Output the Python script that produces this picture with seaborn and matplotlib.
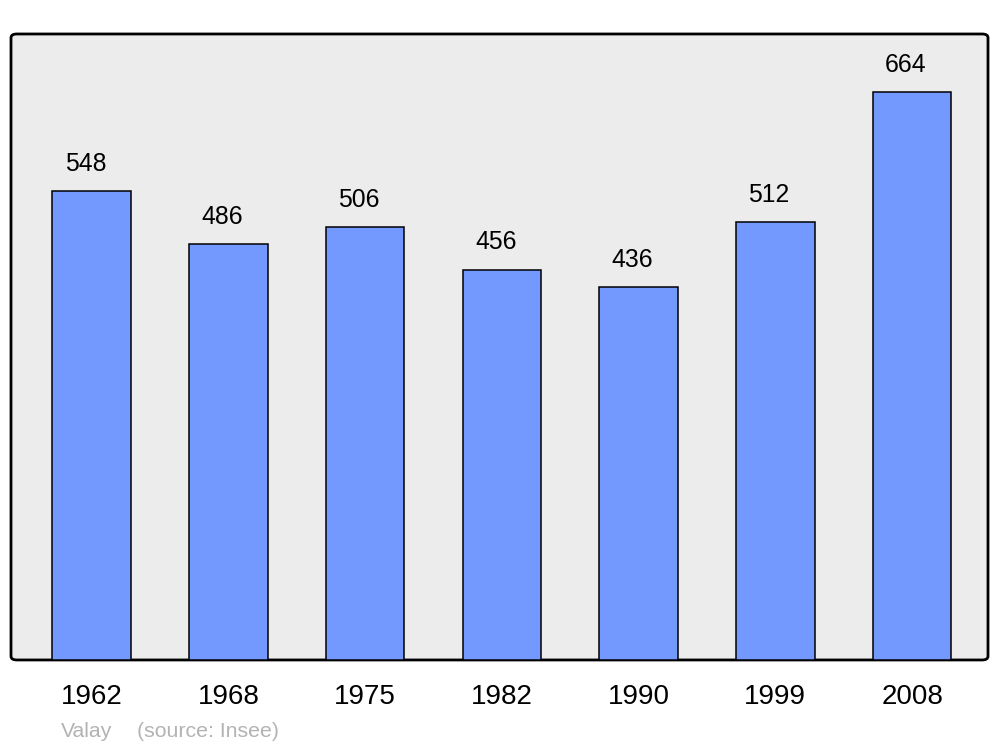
import pandas as pd
import seaborn as sns
import matplotlib.pyplot as plt
from matplotlib.patches import FancyBboxPatch

# Data
years = ["1962", "1968", "1975", "1982", "1990", "1999", "2008"]
population = [548, 486, 506, 456, 436, 512, 664]

df = pd.DataFrame({"year": years, "population": population})

sns.set_style("white")
plt.rcParams["font.family"] = ["Liberation Sans", "DejaVu Sans"]

fig = plt.figure(figsize=(10, 7.47), dpi=100)
ax = fig.add_axes([0.011, 0.1165, 0.977, 0.838])

# rounded frame behind the bars
ax.patch.set_visible(False)
frame = FancyBboxPatch((0, 0), 1, 1, boxstyle="round,pad=0,rounding_size=0.006",
                       transform=ax.transAxes, facecolor="#ececec",
                       edgecolor="black", linewidth=2.0, zorder=0, clip_on=False)
ax.add_patch(frame)

sns.barplot(data=df, x="year", y="population", color="#7399ff", saturation=1,
            edgecolor="black", linewidth=1.1, width=0.575, ax=ax, zorder=2)

# value labels above bars (sit slightly left of centre)
for i, v in enumerate(population):
    ax.annotate(str(v), (i, v), xytext=(-4.5, 14.8), textcoords="offset points",
                ha="center", va="baseline", fontsize=17.8, color="black")

ax.set_xlim(-0.59, 6.555)
ax.set_ylim(0, 732)
ax.set_xlabel("")
ax.set_ylabel("")
ax.set_yticks([])
for s in ax.spines.values():
    s.set_visible(False)
ax.tick_params(axis="x", length=0, pad=17, labelsize=20, labelcolor="black")

fig.text(0.061, 0.013, "Valay", color="#b3b3b3", fontsize=15.3, va="baseline")
fig.text(0.137, 0.013, "(source: Insee)", color="#b3b3b3", fontsize=15.3, va="baseline")

fig.savefig("out.png", dpi=100)
